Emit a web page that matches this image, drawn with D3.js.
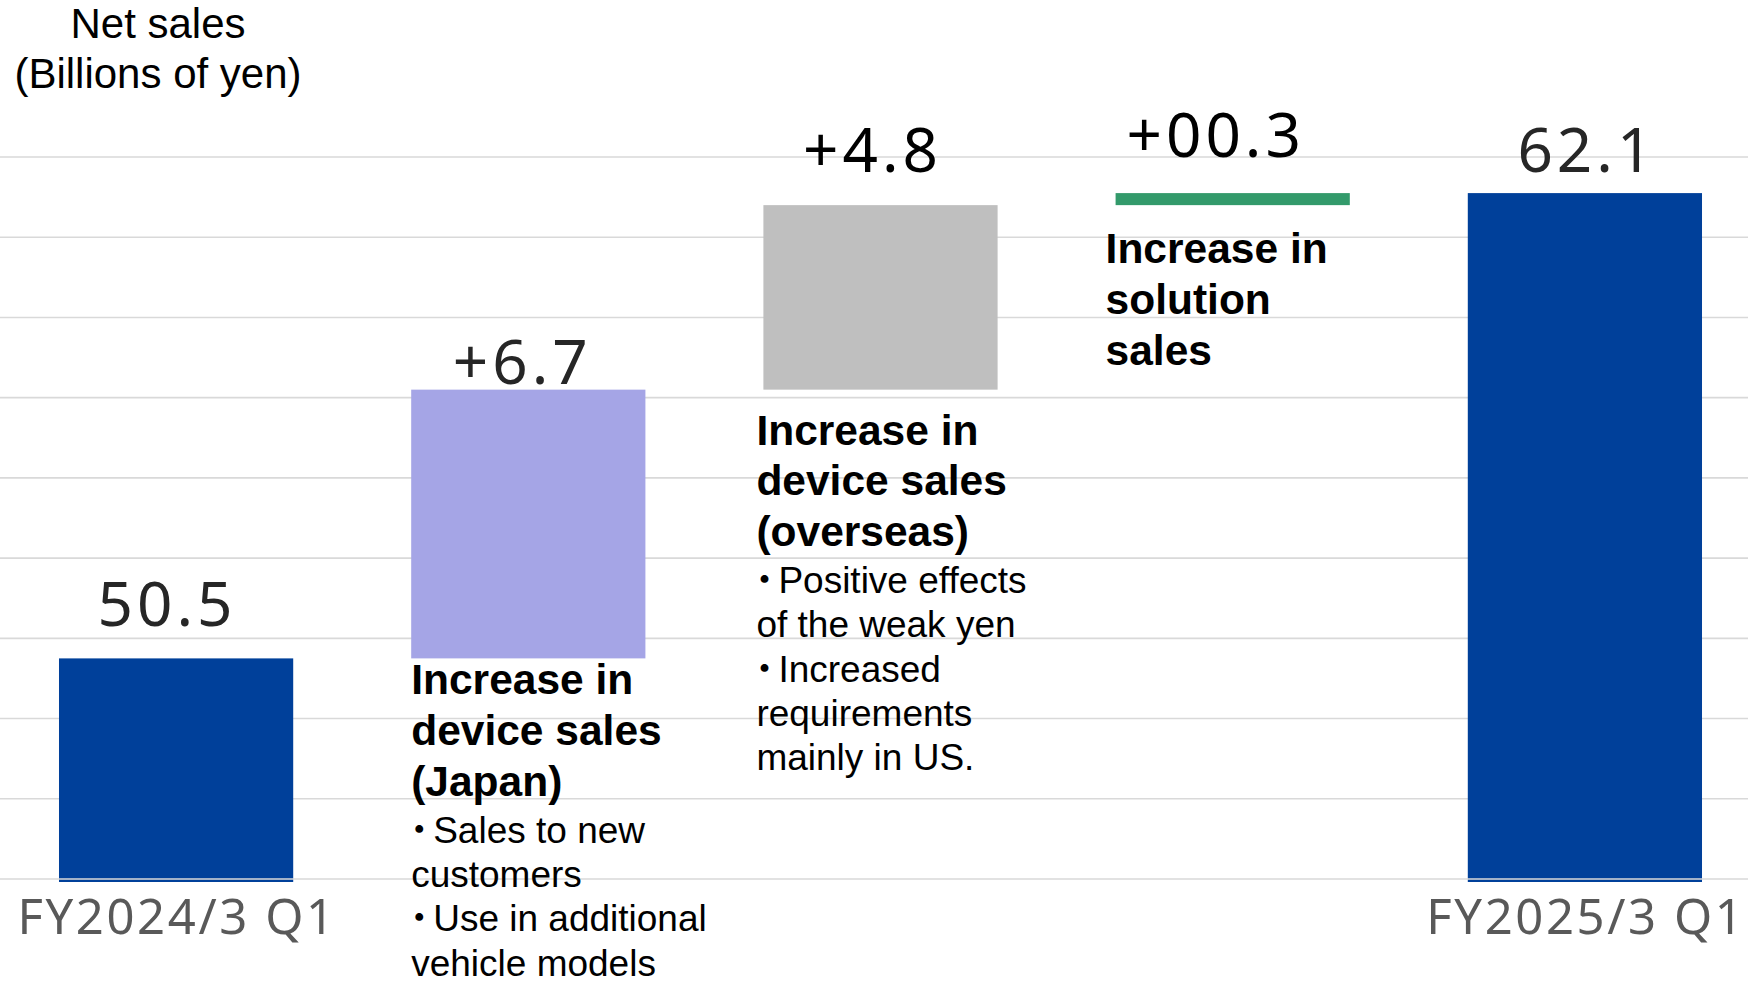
<!DOCTYPE html>
<html>
<head>
<meta charset="utf-8">
<script src="https://cdn.jsdelivr.net/npm/d3@7"></script>
<style>
  body { margin: 0; background: #fff; }
  svg { display: block; }
</style>
</head>
<body>
<svg id="chart" width="1748" height="981"></svg>
<script>
// Net sales bridge, billions of yen
const categories = ["FY2024/3 Q1", "Japan", "Overseas", "Solution", "FY2025/3 Q1"];
const axisLabels = ["FY2024/3 Q1", "", "", "", "FY2025/3 Q1"];
const barTops = [50.5, 57.2, 61.8, 62.1, 62.1];
const barBottoms = [null, 50.5, 57.2, 61.8, null]; // null -> bar grows from the axis
const valueLabels = ["50.5", "+6.7", "+4.8", "+00.3", "62.1"];
const yTicks = [45, 47, 49, 51, 53, 55, 57, 59, 61, 63];

const noteHeads = [
    [],
    ["Increase in", "device sales", "(Japan)"],
    ["Increase in", "device sales", "(overseas)"],
    ["Increase in", "solution", "sales"],
    []
];
const noteBullets = [
    [],
    [["Sales to new", "customers"], ["Use in additional", "vehicle models"]],
    [["Positive effects", "of the weak yen"], ["Increased", "requirements", "mainly in US."]],
    [],
    []
];

// styles / layout
const barColors = ["#00409a", "#a5a5e6", "#bfbfbf", "#339a6b", "#00409a"];
const labelColors = ["#262626", "#262626", "#000", "#000", "#262626"];
const labelGap = [32, 6, 33, 36, 21];
const labelShift = [-11, -8, -10, -19, 0];
const noteShift = [0, 0, -7, -10, 0];
const noteGap = [0, 36, 55, 58, 0];

const width = 1748, height = 981;
const svg = d3.select("#chart");

const x = d3.scaleBand()
    .domain(categories)
    .range([0, 1761])
    .paddingInner(0.335)
    .paddingOuter(0.1675);

const y = d3.scaleLinear()
    .domain([45, 63])
    .range([879, 157]);

// gridlines (behind bars)
svg.append("g")
    .selectAll("line")
    .data(yTicks.slice(1))
    .enter()
    .append("line")
    .attr("x1", 0)
    .attr("x2", width)
    .attr("y1", d => y(d))
    .attr("y2", d => y(d))
    .attr("stroke", "#d9d9d9")
    .attr("stroke-width", 1.6);

const bars = categories.map((c, i) => ({
    cat: c,
    top: barTops[i],
    bottom: barBottoms[i],
    color: barColors[i]
}));

svg.append("g")
    .selectAll("rect")
    .data(bars)
    .enter()
    .append("rect")
    .attr("x", d => x(d.cat))
    .attr("width", x.bandwidth())
    .attr("y", d => y(d.top))
    .attr("height", d => (d.bottom === null ? y(45) + 3 : y(d.bottom)) - y(d.top))
    .attr("fill", d => d.color);

// baseline sits on top of the bars
svg.append("line")
    .attr("x1", 0)
    .attr("x2", width)
    .attr("y1", y(yTicks[0]))
    .attr("y2", y(yTicks[0]))
    .attr("stroke", "#d9d9d9")
    .attr("stroke-width", 1.6);

// value labels
svg.append("g")
    .selectAll("text")
    .data(bars)
    .enter()
    .append("text")
    .attr("x", (d, i) => x(d.cat) + x.bandwidth() / 2 + labelShift[i] + 2)
    .attr("y", (d, i) => y(d.top) - labelGap[i])
    .attr("text-anchor", "middle")
    .style("font-family", "'Noto Sans', sans-serif")
    .style("font-size", "62px")
    .style("letter-spacing", "4px")
    .style("fill", (d, i) => labelColors[i])
    .text((d, i) => valueLabels[i]);

// category labels
svg.append("g")
    .selectAll("text")
    .data(categories)
    .enter()
    .append("text")
    .attr("x", d => x(d) + x.bandwidth() / 2 + 1)
    .attr("y", 934)
    .attr("text-anchor", "middle")
    .style("font-family", "'Noto Sans', sans-serif")
    .style("font-size", "49px")
    .style("letter-spacing", "2.6px")
    .style("fill", "#595959")
    .text((d, i) => axisLabels[i]);

// axis title
const title = svg.append("text")
    .attr("text-anchor", "middle")
    .style("font-family", "'Liberation Sans', Arial, sans-serif")
    .style("font-size", "42px")
    .style("fill", "#000");
title.append("tspan").attr("x", 158).attr("y", 38).text("Net sales");
title.append("tspan").attr("x", 158).attr("y", 88).text("(Billions of yen)");

// annotations under each step bar
categories.forEach((c, i) => {
    if (!noteHeads[i].length) return;
    const left = x(c) + noteShift[i];
    let base = y(barBottoms[i]) + noteGap[i];
    const g = svg.append("g")
        .style("font-family", "'Liberation Sans', Arial, sans-serif")
        .style("fill", "#000");

    noteHeads[i].forEach((line, k) => {
        if (k > 0) base += 50.7;
        g.append("text")
            .attr("x", left)
            .attr("y", base)
            .style("font-size", "42.5px")
            .style("font-weight", "bold")
            .text(line);
    });

    base += 47 - 44.3;
    noteBullets[i].forEach(bullet => {
        bullet.forEach((line, k) => {
            base += 44.3;
            const t = g.append("text")
                .attr("x", left)
                .attr("y", base)
                .style("font-size", "37px");
            if (k === 0) {
                t.append("tspan")
                    .attr("dx", -10.5)
                    .style("font-family", "'Noto Sans CJK JP', sans-serif")
                    .text("・");
                t.append("tspan").attr("dx", -4.5).text(line);
            } else {
                t.text(line);
            }
        });
    });
});
</script>
</body>
</html>
